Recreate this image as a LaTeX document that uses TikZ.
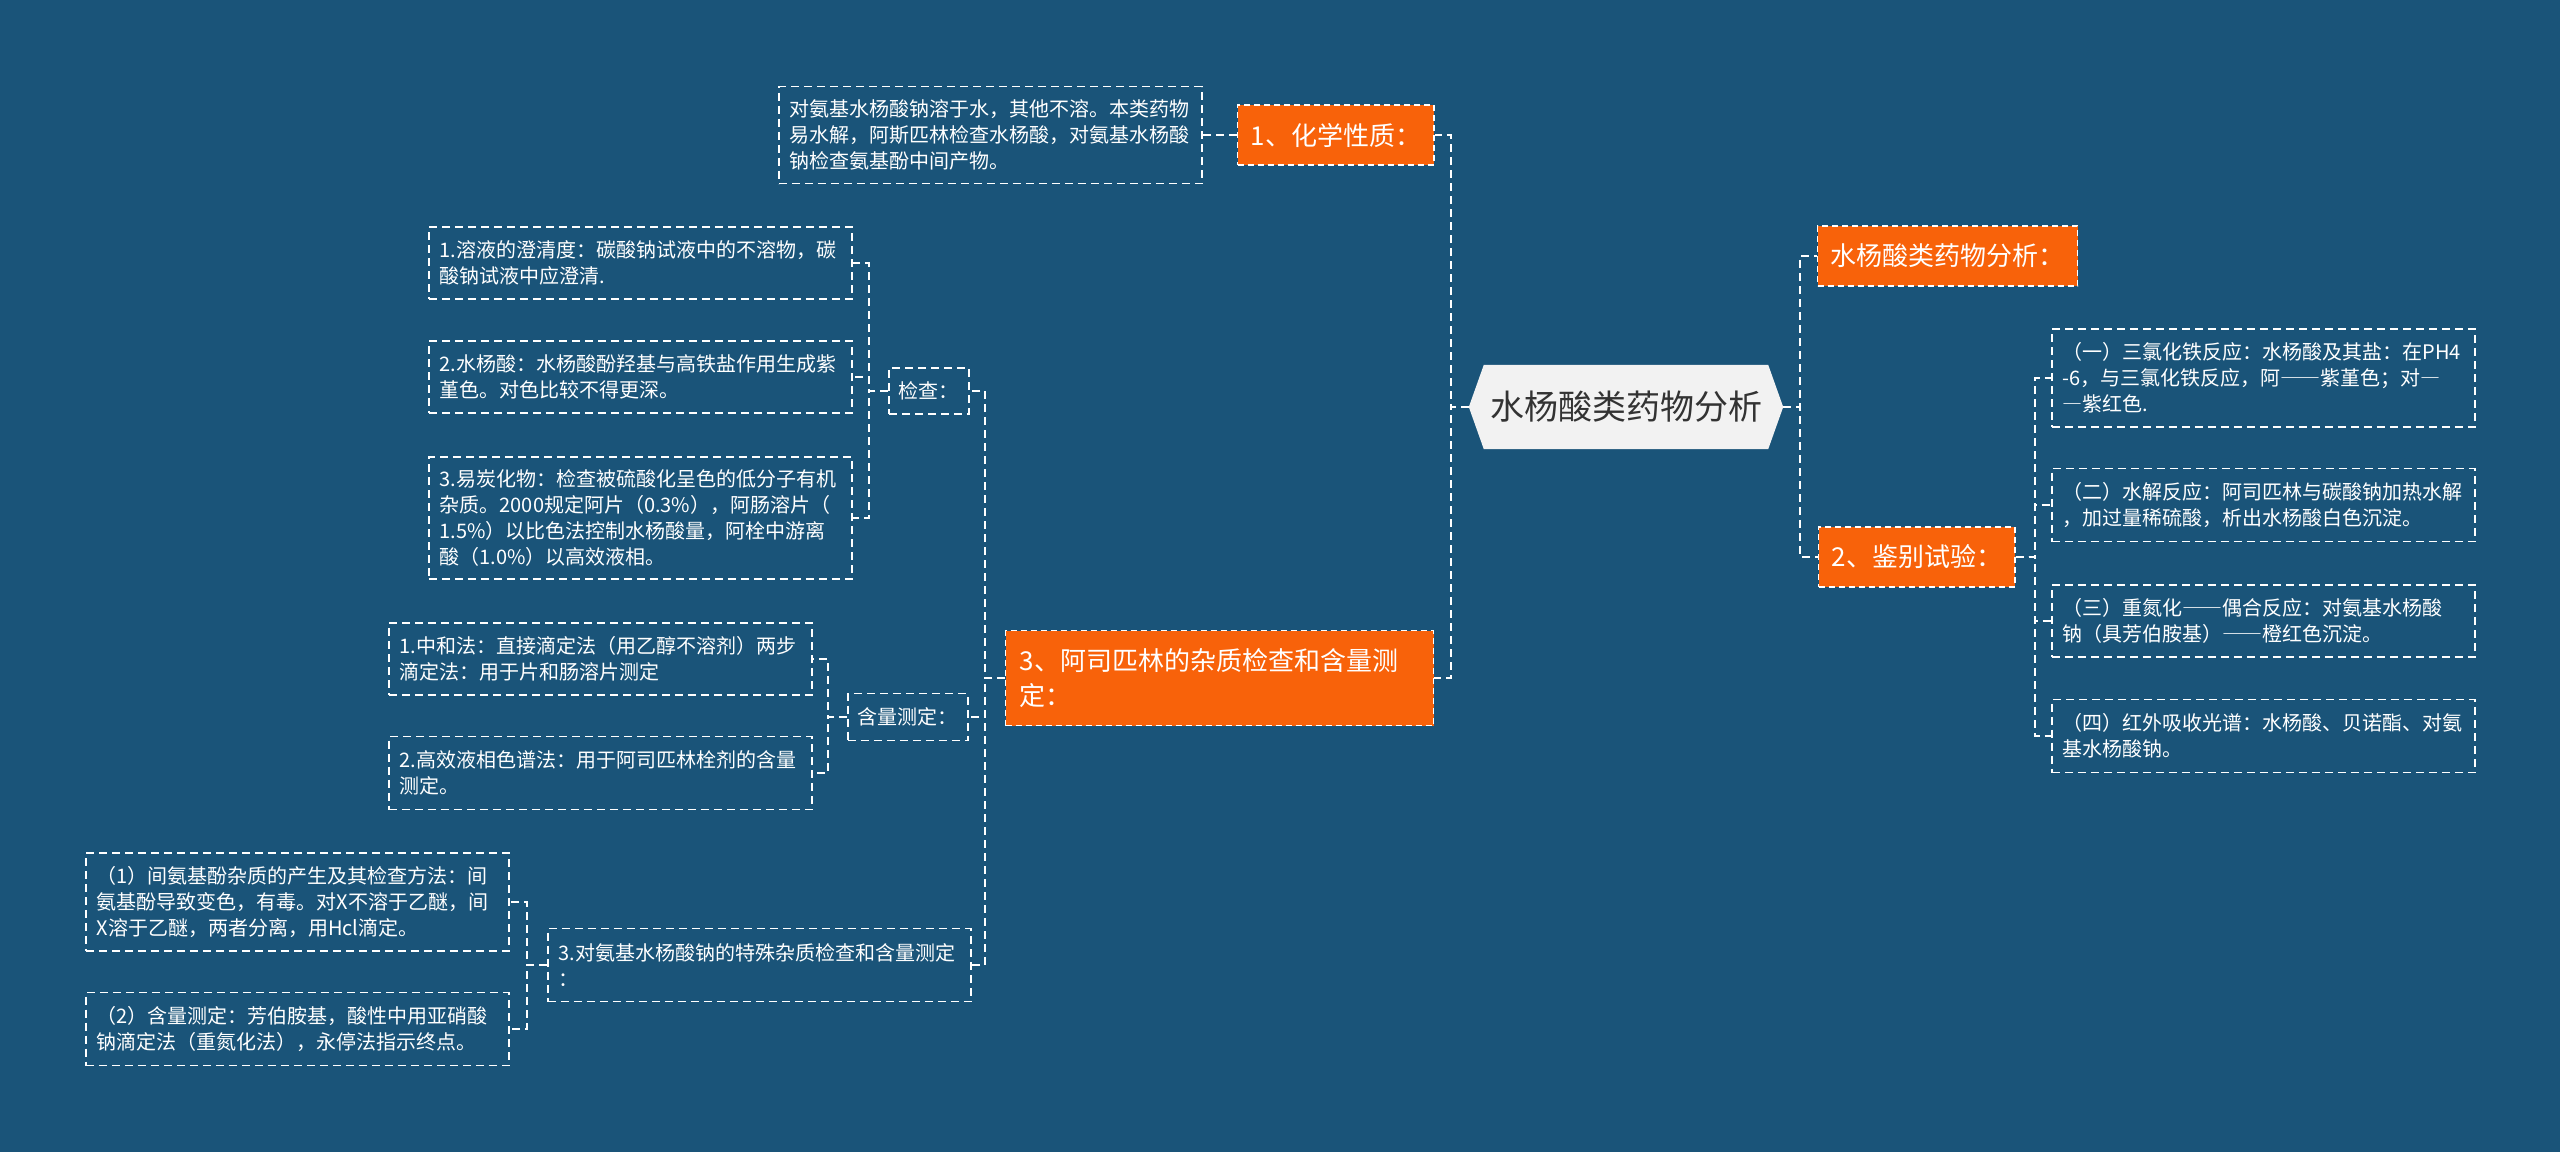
\documentclass[tikz,border=0pt]{standalone}
\usepackage{fontspec}
\setmainfont{Noto Sans CJK SC}
\newcommand\fwdash[1]{{\addfontfeatures{RawFeature=+fwid}#1}}
\usetikzlibrary{backgrounds}
\definecolor{bgc}{HTML}{1A5479}
\definecolor{org}{HTML}{F8620A}
\definecolor{rootc}{HTML}{F2F2F2}
\definecolor{roott}{HTML}{333333}
\tikzset{
 conn/.style={draw=white, line width=1.8pt, dash pattern=on 8pt off 5pt},
 leaf/.style={draw=white, line width=1.5pt, dash pattern=on 8pt off 5pt, text=white,
   font=\fontsize{20}{26}\selectfont, align=left, text width=401pt, inner xsep=11pt,
   inner ysep=4pt, anchor=west},
 mid/.style={draw=white, line width=1.5pt, dash pattern=on 8pt off 5pt, text=white,
   font=\fontsize{20}{26}\selectfont, inner xsep=10pt, inner ysep=4pt,
   minimum height=46pt, anchor=west},
 hot/.style={fill=org, draw=white, line width=1.2pt, dash pattern=on 6pt off 4pt,
   text=white, font=\fontsize{26}{35}\selectfont, inner xsep=13pt, inner ysep=4pt,
   minimum height=60pt, anchor=west},
 rootnode/.style={text=roott, font=\fontsize{34}{40}\selectfont, minimum width=314pt,
   minimum height=84pt, inner sep=0pt}
}
\begin{document}
\begin{tikzpicture}[x=1pt,y=-1pt]
\begin{pgfonlayer}{background}
\fill[bgc] (0,0) rectangle (2560,1152);
\end{pgfonlayer}
\useasboundingbox (0,0) rectangle (2560,1152);

% root
\node[rootnode] (root) at (1626,407) {水杨酸类药物分析};
\begin{pgfonlayer}{background}
\fill[rootc] ([xshift=15pt]root.north west) -- ([xshift=-15pt]root.north east) -- (root.east)
  -- ([xshift=-15pt]root.south east) -- ([xshift=15pt]root.south west) -- (root.west) -- cycle;
\end{pgfonlayer}

% left branch 1
\node[hot] (n1) at (1237,135) {1、化学性质：};
\node[leaf, minimum height=97pt] (t1) at (778,135) {对氨基水杨酸钠溶于水，其他不溶。本类药物\\易水解，阿斯匹林检查水杨酸，对氨基水杨酸\\钠检查氨基酚中间产物。};

% left branch 3
\node[hot, text width=400pt, align=left, inner xsep=14pt, minimum height=95pt] (n3) at (1005,678) {3、阿司匹林的杂质检查和含量测\\定：};
\node[mid] (jc) at (888,391) {检查：};
\node[mid, minimum height=47pt] (hl) at (847,717) {含量测定：};
\node[leaf, minimum height=73pt] (pa) at (547,965) {3.对氨基水杨酸钠的特殊杂质检查和含量测定\\：};

\node[leaf, minimum height=72pt] (j1) at (428,263) {1.溶液的澄清度：碳酸钠试液中的不溶物，碳\\酸钠试液中应澄清.};
\node[leaf, minimum height=72pt] (j2) at (428,377) {2.水杨酸：水杨酸酚羟基与高铁盐作用生成紫\\堇色。对色比较不得更深。};
\node[leaf, minimum height=122pt] (j3) at (428,518) {3.易炭化物：检查被硫酸化呈色的低分子有机\\杂质。2000规定阿片（0.3\%），阿肠溶片（\\1.5\%）以比色法控制水杨酸量，阿栓中游离\\酸（1.0\%）以高效液相。};

\node[leaf, minimum height=72pt] (h1) at (388,659) {1.中和法：直接滴定法（用乙醇不溶剂）两步\\滴定法：用于片和肠溶片测定};
\node[leaf, minimum height=73pt] (h2) at (388,773) {2.高效液相色谱法：用于阿司匹林栓剂的含量\\测定。};

\node[leaf, minimum height=98pt] (p1) at (85,902) {（1）间氨基酚杂质的产生及其检查方法：间\\氨基酚导致变色，有毒。对X不溶于乙醚，间\\X溶于乙醚，两者分离，用Hcl滴定。};
\node[leaf, minimum height=73pt] (p2) at (85,1029) {（2）含量测定：芳伯胺基，酸性中用亚硝酸\\钠滴定法（重氮化法），永停法指示终点。};

% right side
\node[hot] (r0) at (1817,256) {水杨酸类药物分析：};
\node[hot] (n2) at (1818,557) {2、鉴别试验：};
\node[leaf, minimum height=98pt] (r1) at (2051,378) {（一）三氯化铁反应：水杨酸及其盐：在PH4\\-6，与三氯化铁反应，阿\fwdash{——}紫堇色；对\fwdash{—}\\\fwdash{—}紫红色.};
\node[leaf, minimum height=73pt] (r2) at (2051,505) {（二）水解反应：阿司匹林与碳酸钠加热水解\\，加过量稀硫酸，析出水杨酸白色沉淀。};
\node[leaf, minimum height=72pt] (r3) at (2051,621) {（三）重氮化\fwdash{——}偶合反应：对氨基水杨酸\\钠（具芳伯胺基）\fwdash{——}橙红色沉淀。};
\node[leaf, minimum height=73pt] (r4) at (2051,736) {（四）红外吸收光谱：水杨酸、贝诺酯、对氨\\基水杨酸钠。};

% connectors
\draw[conn] (root.west) -- ++(-18,0) |- (n1.east);
\draw[conn] (root.west) -- ++(-18,0) |- (n3.east);
\draw[conn] (n1.west) -- (t1.east);
\draw[conn] (n3.west) -- ++(-20,0) |- (jc.east);
\draw[conn] (n3.west) -- ++(-20,0) |- (hl.east);
\draw[conn] (n3.west) -- ++(-20,0) |- (pa.east);
\draw[conn] (jc.west) -- ++(-19,0) |- (j1.east);
\draw[conn] (jc.west) -- ++(-19,0) |- (j2.east);
\draw[conn] (jc.west) -- ++(-19,0) |- (j3.east);
\draw[conn] (hl.west) -- ++(-19,0) |- (h1.east);
\draw[conn] (hl.west) -- ++(-19,0) |- (h2.east);
\draw[conn] (pa.west) -- ++(-20,0) |- (p1.east);
\draw[conn] (pa.west) -- ++(-20,0) |- (p2.east);
\draw[conn] (root.east) -- ++(17,0) |- (r0.west);
\draw[conn] (root.east) -- ++(17,0) |- (n2.west);
\draw[conn] (n2.east) -- ++(19,0) |- (r1.west);
\draw[conn] (n2.east) -- ++(19,0) |- (r2.west);
\draw[conn] (n2.east) -- ++(19,0) |- (r3.west);
\draw[conn] (n2.east) -- ++(19,0) |- (r4.west);
\end{tikzpicture}
\end{document}
